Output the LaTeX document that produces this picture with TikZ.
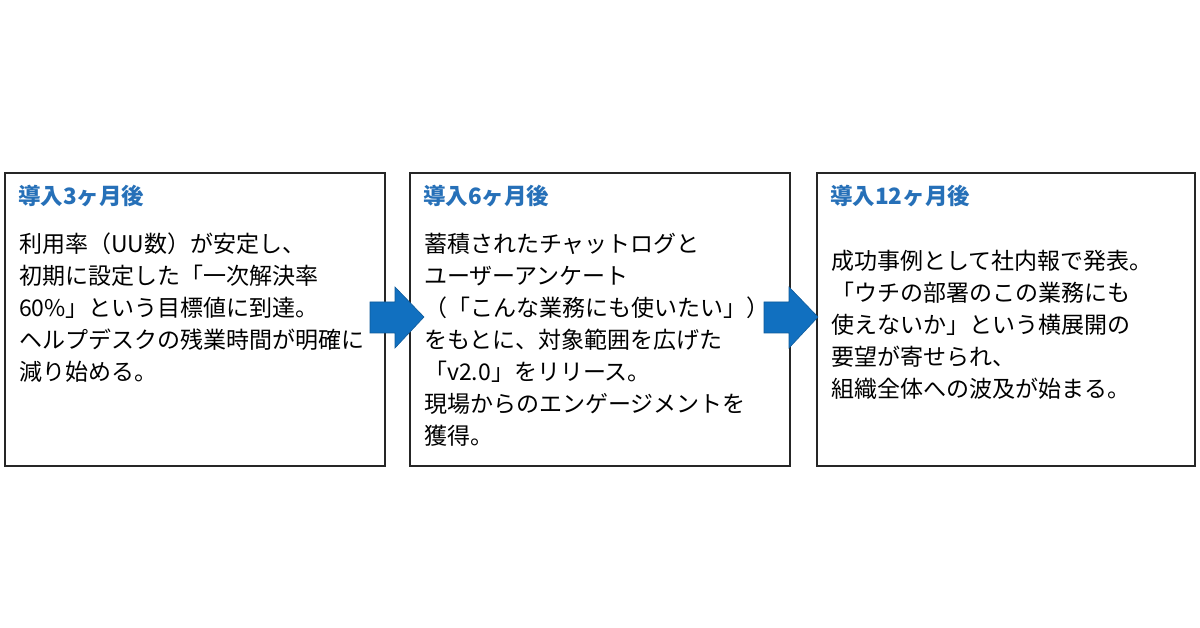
\documentclass[tikz,border=0pt]{standalone}
\usepackage{fontspec}
\setmainfont{Noto Sans CJK JP}
\begin{document}
\begin{tikzpicture}[x=1pt,y=-1pt,
  box/.style={draw=black!85,line width=1.2pt},
  ttl/.style={anchor=west,text=titleblue,font=\fontsize{22.5}{26}\selectfont\bfseries,inner sep=0},
  body/.style={anchor=north west,align=left,inner sep=0,font=\fontsize{23}{32}\selectfont},
  arr/.style={fill=arrowblue,draw=arrowblue!80!black,line width=0.6pt}]
\definecolor{titleblue}{HTML}{2670B8}
\definecolor{arrowblue}{HTML}{1170C0}
\useasboundingbox (0,0) rectangle (1200,628);
\fill[white] (0,0) rectangle (1200,628);
\draw[box] (5,173) rectangle (385,466);
\draw[box] (410,173) rectangle (790,466);
\draw[box] (817,173) rectangle (1195,466);
\node[ttl] (t1) at (18,196) {導入3ヶ月後};
\node[ttl] (t2) at (423,196) {導入6ヶ月後};
\node[ttl] (t3) at (830,196) {導入12ヶ月後};
\node[body] (b1) at (19,233) {利用率（UU数）が安定し、\\初期に設定した「一次解決率\\60\%」という目標値に到達。\\ヘルプデスクの残業時間が明確に\\減り始める。};
\node[body] (b2) at (424,233) {蓄積されたチャットログと\\ユーザーアンケート\\（「こんな業務にも使いたい」）\\をもとに、対象範囲を広げた\\「v2.0」をリリース。\\現場からのエンゲージメントを\\獲得。};
\node[body] (b3) at (831,250) {成功事例として社内報で発表。\\「ウチの部署のこの業務にも\\使えないか」という横展開の\\要望が寄せられ、\\組織全体への波及が始まる。};
\draw[arr] (370,302) -- (395,302) -- (395,287) -- (424,317) -- (395,348) -- (395,333) -- (370,333) -- cycle;
\draw[arr] (764,302) -- (789,302) -- (789,287) -- (818,317) -- (789,348) -- (789,333) -- (764,333) -- cycle;
\end{tikzpicture}
\end{document}
